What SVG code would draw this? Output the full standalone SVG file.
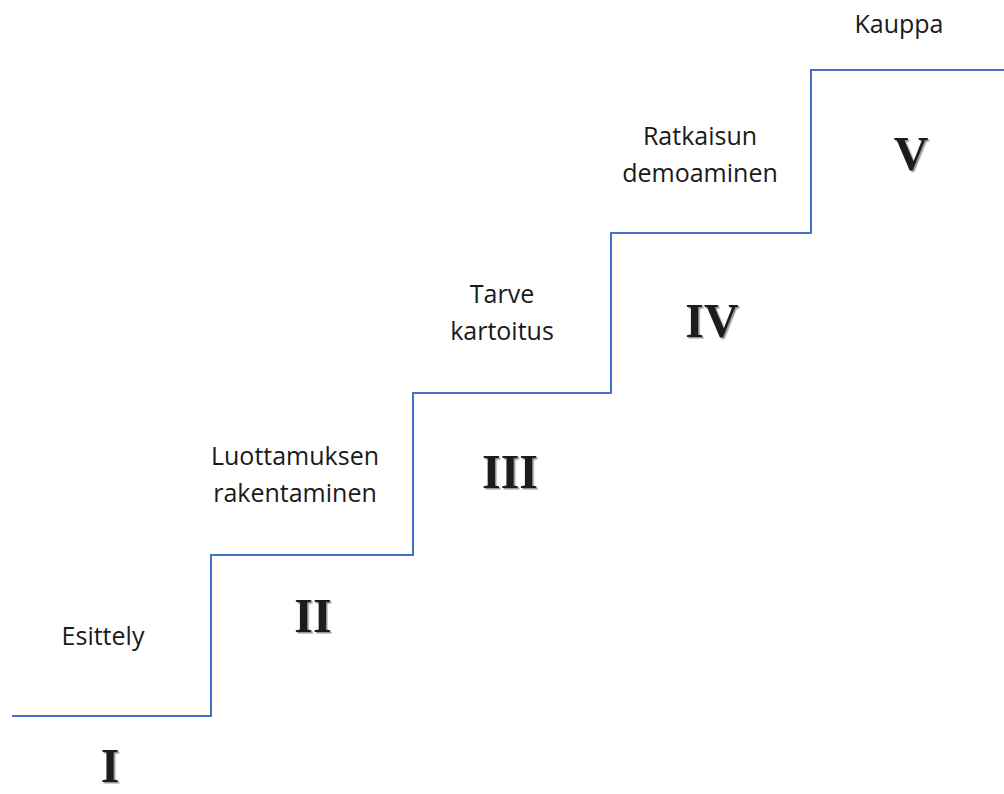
<svg xmlns="http://www.w3.org/2000/svg" width="1004" height="794" viewBox="0 0 1004 794">
  <defs>
    <filter id="engrave" x="-20%" y="-20%" width="140%" height="140%">
      <feDropShadow dx="1.5" dy="1.5" stdDeviation="0.6" flood-color="#8a8a8a" flood-opacity="0.9"/>
    </filter>
  </defs>
  <style>
    .stair { fill: none; stroke: #4472C4; stroke-width: 2; }
    .lbl { font-family: "Open Sans", "Liberation Sans", sans-serif; font-size: 25px; fill: #1a1a1a; text-anchor: middle; }
    .num { font-family: "Liberation Serif", "DejaVu Serif", serif; font-weight: bold; font-size: 48px; fill: #1e1e1e; text-anchor: middle; filter: url(#engrave); }
  </style>
  <rect width="1004" height="794" fill="#ffffff"/>
  <g id="connectors">
    <path class="stair" d="M12,716 H211 V555 H413 V393 H611 V233 H811 V70 H1004"/>
  </g>
  <g id="step1">
    <text class="lbl" x="103" y="645">Esittely</text>
    <text class="num" x="110" y="782">I</text>
  </g>
  <g id="step2">
    <text class="lbl" x="295" y="465">Luottamuksen</text>
    <text class="lbl" x="295" y="502">rakentaminen</text>
    <text class="num" x="313" y="632">II</text>
  </g>
  <g id="step3">
    <text class="lbl" x="502" y="303">Tarve</text>
    <text class="lbl" x="502" y="340">kartoitus</text>
    <text class="num" x="510" y="488">III</text>
  </g>
  <g id="step4">
    <text class="lbl" x="700" y="145">Ratkaisun</text>
    <text class="lbl" x="700" y="182">demoaminen</text>
    <text class="num" x="712" y="337">IV</text>
  </g>
  <g id="step5">
    <text class="lbl" x="899" y="33">Kauppa</text>
    <text class="num" x="911" y="170">V</text>
  </g>
</svg>
